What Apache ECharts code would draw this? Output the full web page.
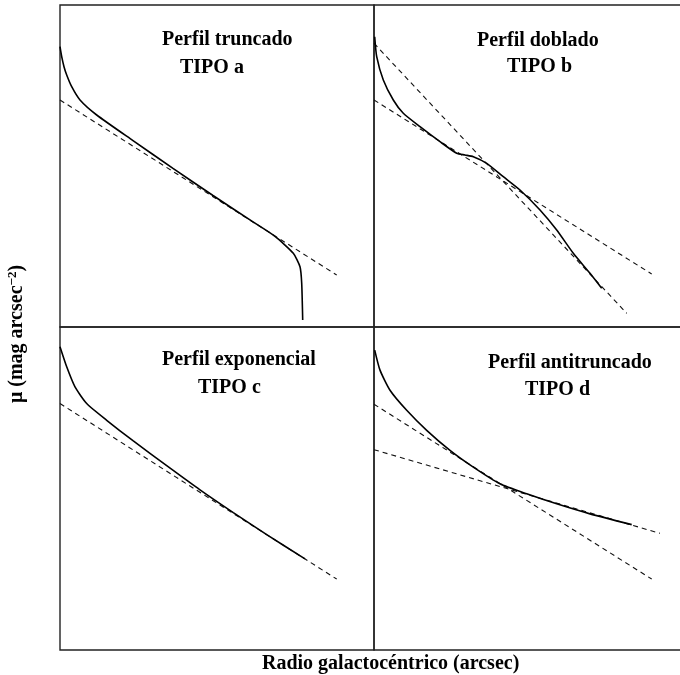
<!DOCTYPE html>
<html>
<head>
<meta charset="utf-8">
<script src="https://cdn.jsdelivr.net/npm/echarts@6/dist/echarts.min.js"></script>
<style>
  html, body { margin: 0; padding: 0; background: #fff; overflow: hidden; }
  #chart { width: 690px; height: 675px; }
</style>
</head>
<body>
<div id="chart"></div>
<script>
// Schematic surface-brightness profiles of galaxy discs.
// Radius and mu are in arbitrary units (no ticks are drawn); mu grows downward.

const radiusMax = 314;
const muMax = 322;

const panelTitles = ['Perfil truncado', 'Perfil doblado', 'Perfil exponencial', 'Perfil antitruncado'];
const panelTypes = ['TIPO a', 'TIPO b', 'TIPO c', 'TIPO d'];

// Type a: truncated profile and its inner exponential fit
const profileA = [[0, 41.7], [1.7, 51.7], [4, 61.7], [6.7, 70], [11.7, 81.7], [20, 95], [36.7, 110],
  [73, 135.6], [113, 163.4], [153, 190.5], [193, 216.9], [215, 231.4], [233.3, 248.3], [240, 261.7],
  [241.7, 278.3], [242.7, 315]];
const fitA = [[0, 95], [276.7, 270]];

// Type b: bent profile with inner and outer fits
const profileB = [[0.7, 31.7], [2.7, 51.7], [9.3, 75], [19.3, 95], [29.3, 108.3], [46, 121.7],
  [66, 136.7], [82.7, 148.3], [91, 150], [99.3, 151.7], [112.7, 158.3], [129.3, 171.7], [146, 185],
  [166, 205], [182.7, 225], [199.3, 248.3], [216, 268.3], [227.7, 283.3]];
const fitBInner = [[0, 95], [277.7, 269]];
const fitBOuter = [[0, 38.3], [252.7, 308.3]];

// Type c: pure exponential profile
const profileC = [[0, 19.7], [6.7, 39.7], [15, 59.7], [26.7, 76.3], [46.7, 93], [73.3, 113.6],
  [106.7, 138.2], [140, 162.3], [173.3, 185], [206.7, 207], [245, 231.1]];
const fitC = [[0, 76.3], [276.7, 251.3]];

// Type d: anti-truncated profile with inner and outer fits
const profileD = [[0.7, 23], [6, 43], [16, 63], [32.7, 83], [52.7, 103], [76, 123], [99.3, 139.7],
  [126, 156.3], [152.7, 166.3], [182.7, 176.3], [216, 186.3], [257.7, 197]];
const fitDInner = [[0, 77], [277.7, 251.3]];
const fitDOuter = [[0, 122.3], [286, 205.7]];

const xAxisLabel = 'Radio galactocéntrico (arcsec)';

const chart = echarts.init(document.getElementById('chart'), null, { renderer: 'canvas' });

const serif = "'Liberation Serif', 'DejaVu Serif', serif";
const gridBox = [
  { left: 60, top: 5, width: 314, height: 322 },
  { left: 374, top: 5, width: 314, height: 322 },
  { left: 60, top: 327, width: 314, height: 323 },
  { left: 374, top: 327, width: 314, height: 323 }
];

const grids = gridBox.map(g => Object.assign({
  show: true, borderColor: '#222', borderWidth: 1.4, backgroundColor: 'transparent'
}, g));

const xAxes = gridBox.map((g, i) => ({
  type: 'value', gridIndex: i, min: 0, max: radiusMax, show: false
}));
const yAxes = gridBox.map((g, i) => ({
  type: 'value', gridIndex: i, min: 0, max: muMax, inverse: true, show: false
}));

function solid(data, i) {
  return {
    type: 'line', xAxisIndex: i, yAxisIndex: i, data: data, showSymbol: false,
    smooth: 0.2, silent: true,
    lineStyle: { color: '#000', width: 1.6 }
  };
}
function dashed(data, i) {
  return {
    type: 'line', xAxisIndex: i, yAxisIndex: i, data: data, showSymbol: false, silent: true,
    lineStyle: { color: '#111', width: 1.1, type: [5, 4] }
  };
}

const series = [
  dashed(fitA, 0), solid(profileA, 0),
  dashed(fitBInner, 1), dashed(fitBOuter, 1), solid(profileB, 1),
  dashed(fitC, 2), solid(profileC, 2),
  dashed(fitDInner, 3), dashed(fitDOuter, 3), solid(profileD, 3)
];

const titleFont = { fontFamily: serif, fontWeight: 'bold', fontSize: 20, fill: '#000' };
const titlePos = [
  [[162, 30], [180, 58]],
  [[477, 31], [507, 57]],
  [[162, 350], [198, 378]],
  [[488, 353], [525, 380]]
];

const graphics = [];
panelTitles.forEach((t, i) => {
  graphics.push({ type: 'text', x: titlePos[i][0][0], y: titlePos[i][0][1],
    style: Object.assign({ text: t, align: 'left', verticalAlign: 'top' }, titleFont), silent: true });
  graphics.push({ type: 'text', x: titlePos[i][1][0], y: titlePos[i][1][1],
    style: Object.assign({ text: panelTypes[i], align: 'left', verticalAlign: 'top' }, titleFont), silent: true });
});

graphics.push({
  type: 'text', x: 262, y: 654,
  style: Object.assign({ text: xAxisLabel, align: 'left', verticalAlign: 'top' }, titleFont),
  silent: true
});

graphics.push({
  type: 'text', x: 17, y: 334, rotation: Math.PI / 2,
  style: {
    text: '{a|μ (mag arcsec}{s|−2}{a|)}',
    align: 'center', verticalAlign: 'middle',
    rich: {
      a: { fontFamily: serif, fontWeight: 'bold', fontSize: 20, fill: '#000', color: '#000', lineHeight: 22 },
      s: { fontFamily: serif, fontWeight: 'bold', fontSize: 13, fill: '#000', color: '#000',
           lineHeight: 22, verticalAlign: 'top', padding: [0, 0, 10, 0] }
    }
  },
  silent: true
});

chart.setOption({
  animation: false,
  backgroundColor: '#fff',
  grid: grids,
  xAxis: xAxes,
  yAxis: yAxes,
  series: series,
  graphic: graphics
});
</script>
</body>
</html>
